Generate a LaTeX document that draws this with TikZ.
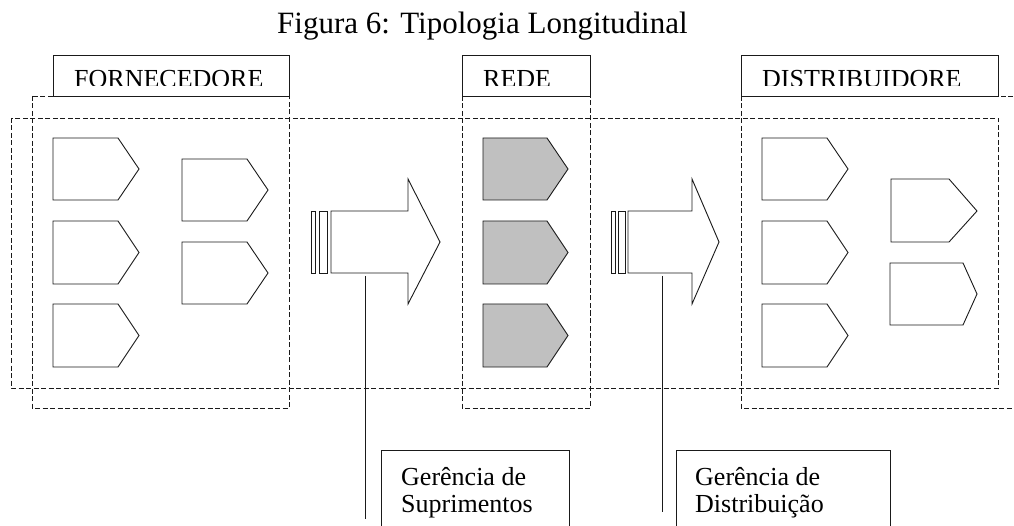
\documentclass[tikz,border=0pt]{standalone}
\usepackage{fontspec}
\setmainfont{Liberation Serif}
\definecolor{shade}{HTML}{C0C0C0}
\definecolor{ink}{HTML}{1A1A1A}
% pentagon tag: style, left, top, bottom, start of point, tip
\newcommand\tagshape[6]{%
  \draw[tagline,#1] (#2,#3) -- (#5,#3) -- (#6,{(#3+#4)/2}) -- (#5,#4) -- (#2,#4) -- cycle;}
\begin{document}
\begin{tikzpicture}[x=1pt,y=-1pt,
  tagline/.style={draw=ink,line width=0.9pt,line join=miter},
  frame/.style={draw=ink,line width=0.8pt,dash pattern=on 5pt off 2.5pt},
  solid box/.style={draw=ink,line width=0.9pt},
  hdr/.style={inner sep=0pt,font=\fontsize{26}{28}\selectfont},
  ctext/.style={inner sep=0pt,font=\fontsize{26}{28}\selectfont},
  title/.style={inner sep=0pt,font=\fontsize{31}{34}\selectfont}]
\clip (0,0) rectangle (1014,526);
\fill[white] (0,0) rectangle (1014,526);

% title
\node[title,anchor=base west] (title) at (277,34) {Figura 6: Tipologia Longitudinal};

% dashed frames: the long band and the three columns
\draw[frame] (11,118) rectangle (998,388);
\draw[frame] (32,96) rectangle (289,408);
\draw[frame] (462,96) rectangle (590,408);
\draw[frame] (741,96) rectangle (1030,408);

% column headers (text cut off by the box)
\draw[solid box,fill=white] (53,55) rectangle (289,96);
\draw[solid box,fill=white] (462,55) rectangle (590,96);
\draw[solid box,fill=white] (741,55) rectangle (998,96);
\begin{scope}
  \clip (53,55) rectangle (998,86);
  \node[hdr,anchor=base west] (forn) at (74,88) {FORNECEDORE};
  \node[hdr,anchor=base west] (rede) at (483,88) {REDE};
  \node[hdr,anchor=base west] (dist) at (762,88) {DISTRIBUIDORE};
\end{scope}

% suppliers
\tagshape{fill=white}{53}{138}{200}{118}{139}
\tagshape{fill=white}{53}{221}{284}{118}{139}
\tagshape{fill=white}{53}{304}{367}{118}{139}
\tagshape{fill=white}{182}{159}{221}{247}{268}
\tagshape{fill=white}{182}{242}{304}{247}{268}

% network
\tagshape{fill=shade}{483}{138}{200}{547}{568}
\tagshape{fill=shade}{483}{221}{284}{547}{568}
\tagshape{fill=shade}{483}{304}{367}{547}{568}

% distributors
\tagshape{fill=white}{762}{138}{200}{827}{848}
\tagshape{fill=white}{762}{221}{284}{827}{848}
\tagshape{fill=white}{762}{304}{367}{827}{848}
\draw[tagline] (891,179) -- (949,179) -- (977,211) -- (949,242) -- (891,242) -- cycle;
\draw[tagline] (890,263) -- (963,263) -- (977,294) -- (963,325) -- (890,325) -- cycle;

% flow arrows with striped tails
\draw[tagline] (331,211) -- (408,211) -- (408,179) -- (440,242) -- (408,304) -- (408,273) -- (331,273) -- cycle;
\draw[tagline] (311,211) rectangle (315,273);
\draw[tagline] (319,211) rectangle (327,273);
\draw[tagline] (628,211) -- (692,211) -- (692,179) -- (719,242) -- (692,304) -- (692,273) -- (628,273) -- cycle;
\draw[tagline] (611,211) rectangle (615,273);
\draw[tagline] (618,211) rectangle (625,273);

% callouts
\coordinate (a1) at (365,276);
\coordinate (e1) at (365,519);
\coordinate (a2) at (662,276);
\coordinate (e2) at (662,512);
\draw[draw=ink,line width=0.9pt] (a1) -- (e1);
\draw[draw=ink,line width=0.9pt] (a2) -- (e2);
\draw[solid box] (381,450) rectangle (569,540);
\draw[solid box] (676,450) rectangle (890,540);
\node[ctext,anchor=base west] (sup1) at (401,485) {Gerência de};
\node[ctext,anchor=base west] (sup2) at (401,512) {Suprimentos};
\node[ctext,anchor=base west] (dis1) at (695,485) {Gerência de};
\node[ctext,anchor=base west] (dis2) at (695,512) {Distribuição};
\end{tikzpicture}
\end{document}
